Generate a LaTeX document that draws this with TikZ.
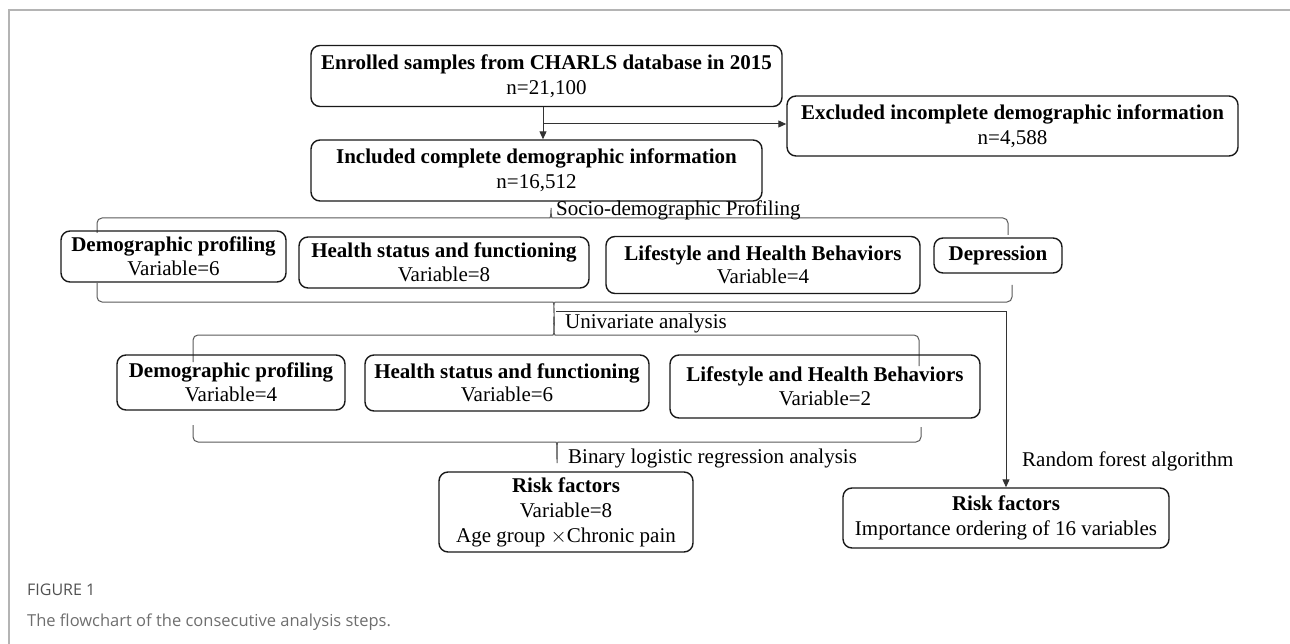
\documentclass[tikz,border=0pt]{standalone}
\usepackage{fontspec}
\setmainfont{Liberation Serif}
\newfontfamily\capfont{Open Sans}
\usetikzlibrary{arrows.meta, positioning, calc}

\definecolor{framegray}{HTML}{B4B4B4}
\definecolor{capgray}{HTML}{6E6E6E}

\begin{document}
\begin{tikzpicture}[x=1pt, y=-1pt, >={Triangle[length=8pt, width=7pt]},
  box/.style={draw=black!90, line width=1.4pt, rounded corners=9pt, align=center,
    inner sep=0pt, font=\fontsize{21}{25}\selectfont},
  rowbox/.style={box, font=\fontsize{21}{23.5}\selectfont},
  brace/.style={draw=black!65, line width=1pt, rounded corners=5pt},
  link/.style={draw=black!80, line width=1pt},
  lbl/.style={anchor=west, inner sep=0pt, font=\fontsize{21}{25}\selectfont}]
\useasboundingbox (0,0) rectangle (1290,644);
% frame of the figure
\draw[framegray, line width=1.5pt] (9,644) -- (9,10) -- (1290,10);

% top part
\node[box, minimum width=471pt, minimum height=61pt] (enrol) at (546.5,76)
  {\textbf{Enrolled samples from CHARLS database in 2015}\\n=21,100};
\node[box, minimum width=451pt, minimum height=61pt] (incl) at (536.5,170.5)
  {\textbf{Included complete demographic information}\\n=16,512};
\node[box, minimum width=451pt, minimum height=60pt] (excl) at (1012.5,126)
  {\textbf{Excluded incomplete demographic information}\\n=4,588};
\coordinate (split) at (543,124);
\draw[link, ->] (split |- enrol.south) -- (split |- incl.north);
\draw[link, ->] (split) -- (split -| excl.west);

% first group of variables
\draw[brace] (97,233) -- (97,218) -- (545,218) to[out=0, in=-90] (551,205)
  to[out=-90, in=180] (557,218) -- (1008,218) -- (1008,235);
\node[lbl] (socio) at (556,210) {Socio-demographic Profiling};
\node[rowbox, minimum width=225pt, minimum height=51pt] (demoA) at (173.5,256.5)
  {\textbf{Demographic profiling}\\Variable=6};
\node[rowbox, minimum width=290pt, minimum height=51pt] (healthA) at (444,262.5)
  {\textbf{Health status and functioning}\\Variable=8};
\node[rowbox, minimum width=314pt, minimum height=57pt] (lifeA) at (763,265)
  {\textbf{Lifestyle and Health Behaviors}\\Variable=4};
\node[rowbox, minimum width=128pt, minimum height=35pt] (depr) at (998,255.5)
  {\textbf{Depression}};
\draw[brace] (97,283) -- (97,302) -- (548,302) to[out=0, in=-90] (554,318)
  to[out=90, in=180] (560,302) -- (1012,302) -- (1012,285);

% univariate analysis
\draw[brace] (193,362) -- (193,335) -- (548,335) to[out=0, in=90] (554,318);
\draw[brace] (554,318) to[out=90, in=180] (560,335) -- (919,335) -- (919,366);
\node[lbl] (univ) at (565,323) {Univariate analysis};
\node[rowbox, minimum width=228pt, minimum height=55pt] (demoB) at (231,382.5)
  {\textbf{Demographic profiling}\\Variable=4};
\node[rowbox, minimum width=284pt, minimum height=56pt] (healthB) at (507,383)
  {\textbf{Health status and functioning}\\Variable=6};
\node[rowbox, minimum width=310pt, minimum height=63pt] (lifeB) at (825,386.5)
  {\textbf{Lifestyle and Health Behaviors}\\Variable=2};
\draw[brace] (193,425) -- (193,442) -- (551,442) to[out=0, in=-90] (557,458)
  -- (557,463);
\draw[brace] (557,458) to[out=-90, in=180] (563,442) -- (921,442) -- (921,427);

% results
\node[lbl] (logit) at (568,458) {Binary logistic regression analysis};
\node[box, minimum width=254pt, minimum height=80pt] (riskA) at (566,512)
  {\textbf{Risk factors}\\Variable=8\\Age group $\times$Chronic pain};
\node[box, minimum width=326pt, minimum height=60pt] (riskB) at (1006,518)
  {\textbf{Risk factors}\\Importance ordering of 16 variables};
\coordinate (rf) at (556,311);
\draw[link, ->] (rf) -| (riskB.north);
\node[lbl] (forest) at (1022,461) {Random forest algorithm};

% caption
\node[anchor=west, inner sep=0pt, text=capgray!120, font=\capfont\fontsize{16}{19}\selectfont]
  (fig) at (27,590) {FIGURE 1};
\node[anchor=west, inner sep=0pt, text=capgray, font=\capfont\fontsize{16.5}{20}\selectfont]
  (cap) at (27,622) {The flowchart of the consecutive analysis steps.};
\end{tikzpicture}
\end{document}
